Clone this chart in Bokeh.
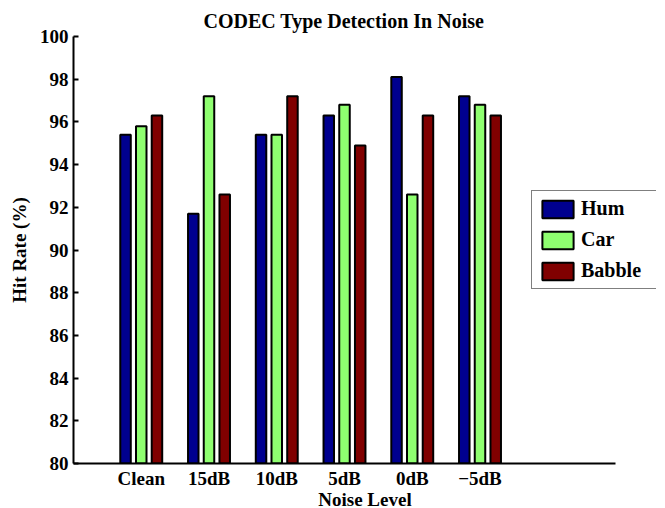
from bokeh.plotting import figure
from bokeh.models import Range1d, FixedTicker, Legend, LegendItem, ColumnDataSource
from bokeh.embed import file_html
from bokeh.resources import INLINE

categories = ["Clean", "15dB", "10dB", "5dB", "0dB", "\u22125dB"]
hum = [95.4, 91.7, 95.4, 96.3, 98.1, 97.2]
car = [95.8, 97.2, 95.4, 96.8, 92.6, 96.8]
babble = [96.3, 92.6, 97.2, 94.9, 96.3, 96.3]
series_names = ["Hum", "Car", "Babble"]
series_colors = ["#00008f", "#8fff70", "#800000"]
y_ticks = [80, 82, 84, 86, 88, 90, 92, 94, 96, 98, 100]

FONT = "Liberation Serif"
x_pos = [i + 1 for i in range(len(categories))]

AXIS_W = 542          # pixel length of the drawn x axis (0..8)
FRAME_W = 583         # frame extends further right so the legend is not clipped
x_axis_end = 8
x_view_end = x_axis_end * FRAME_W / AXIS_W

p = figure(frame_width=FRAME_W, frame_height=427, output_backend="svg", toolbar_location=None,
           x_range=Range1d(0, x_view_end), y_range=Range1d(80, 100),
           min_border_left=73, min_border_right=1, min_border_top=36, min_border_bottom=45,
           title="CODEC Type Detection In Noise")
p.title.align = "left"
p.title.offset = 130
p.title.text_font = FONT
p.title.text_font_size = "20px"
p.title.text_font_style = "bold"
p.title.text_color = "black"
p.title.standoff = 10

p.outline_line_color = None
p.xgrid.visible = False
p.ygrid.visible = False
p.background_fill_color = "white"
p.border_fill_color = "white"

offsets = [-0.232, 0.0, 0.232]
renderers = []
for vals, name, col, off in zip([hum, car, babble], series_names, series_colors, offsets):
    src = ColumnDataSource(dict(x=[xp + off for xp in x_pos], top=vals))
    r = p.vbar(x="x", top="top", bottom=80, width=0.155, source=src,
               fill_color=col, line_color="black", line_width=2)
    renderers.append((name, r))

for ax in (p.xaxis[0], p.yaxis[0]):
    ax.axis_line_width = 2
    ax.axis_line_color = "black"
    ax.major_label_text_font = FONT
    ax.major_label_text_font_style = "bold"
    ax.major_label_text_font_size = "19px"
    ax.major_label_text_color = "black"
    ax.axis_label_text_font = FONT
    ax.axis_label_text_font_style = "bold"
    ax.axis_label_text_font_size = "19px"
    ax.axis_label_text_color = "black"
    ax.minor_tick_line_color = None
    ax.major_tick_out = 0

p.xaxis.bounds = (0, x_axis_end)
p.xaxis.ticker = FixedTicker(ticks=x_pos)
p.xaxis.major_label_overrides = {xp: c for xp, c in zip(x_pos, categories)}
p.xaxis.major_tick_in = 0
p.xaxis.major_label_standoff = 4
p.xaxis.axis_label = "Noise Level"
p.xaxis.axis_label_standoff = -3

p.yaxis.ticker = FixedTicker(ticks=y_ticks)
p.yaxis.major_tick_in = 5
p.yaxis.major_tick_line_width = 2
p.yaxis.major_label_standoff = 5
p.yaxis.axis_label = "Hit Rate (%)"
p.yaxis.axis_label_standoff = 7

legend = Legend(items=[LegendItem(label=n, renderers=[r]) for n, r in renderers],
                location=(458, 174), glyph_width=39, glyph_height=22,
                label_standoff=4, label_width=70, padding=6, spacing=8, margin=0,
                label_text_font=FONT, label_text_font_style="bold",
                label_text_font_size="20px", label_text_color="black",
                border_line_color="black", border_line_width=1,
                background_fill_color="white", background_fill_alpha=1.0)
p.add_layout(legend, "center")

open("out.html", "w").write(file_html(p, INLINE))
